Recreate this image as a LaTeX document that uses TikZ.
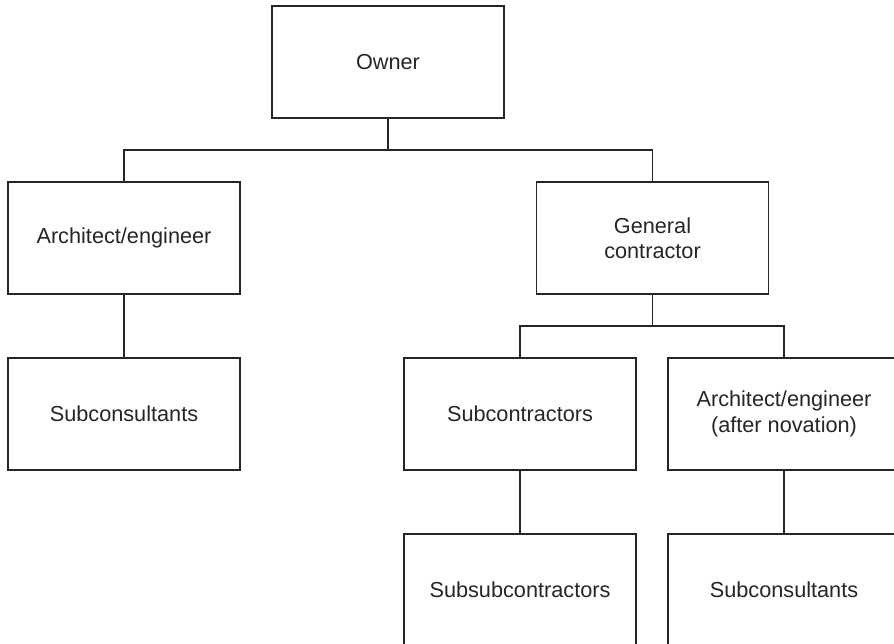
\documentclass[tikz,border=0pt]{standalone}
\usepackage{fontspec}
\setmainfont{Liberation Sans}
\begin{document}
\begin{tikzpicture}[x=1pt,y=-1pt,
  orgbox/.style={draw=black!85, line width=1.1pt, fill=white,
    minimum width=232pt, minimum height=112pt, inner sep=0pt,
    align=center, text=black!85,
    font=\fontsize{21.7}{25.5}\selectfont},
  link/.style={draw=black!85, line width=1.1pt}]
\clip (0,0) rectangle (894,643);
\fill[white] (0,0) rectangle (894,643);

\node[orgbox] (owner)   at (388,62)   {Owner};
\node[orgbox] (arch)    at (124,238)  {Architect/engineer};
\node[orgbox] (gc)      at (652.5,238) {General\\contractor};
\node[orgbox] (subconL) at (124,414)  {Subconsultants};
\node[orgbox] (subc)    at (520,414)  {Subcontractors};
\node[orgbox] (aen)     at (784,414)  {Architect/engineer\\(after novation)};
\node[orgbox] (subsub)  at (520,590)  {Subsubcontractors};
\node[orgbox] (subconR) at (784,590)  {Subconsultants};

% owner to its two direct parties
\coordinate (j1) at (388,150);
\draw[link] (owner.south) -- (j1);
\draw[link] (arch.north) -- (arch.north |- j1) -- (gc.north |- j1) -- (gc.north);

% general contractor to its two parties
\coordinate (j2) at (652.5,326);
\draw[link] (gc.south) -- (j2);
\draw[link] (subc.north) -- (subc.north |- j2) -- (aen.north |- j2) -- (aen.north);

% single-line links
\draw[link] (arch.south) -- (subconL.north);
\draw[link] (subc.south) -- (subsub.north);
\draw[link] (aen.south) -- (subconR.north);
\end{tikzpicture}
\end{document}
